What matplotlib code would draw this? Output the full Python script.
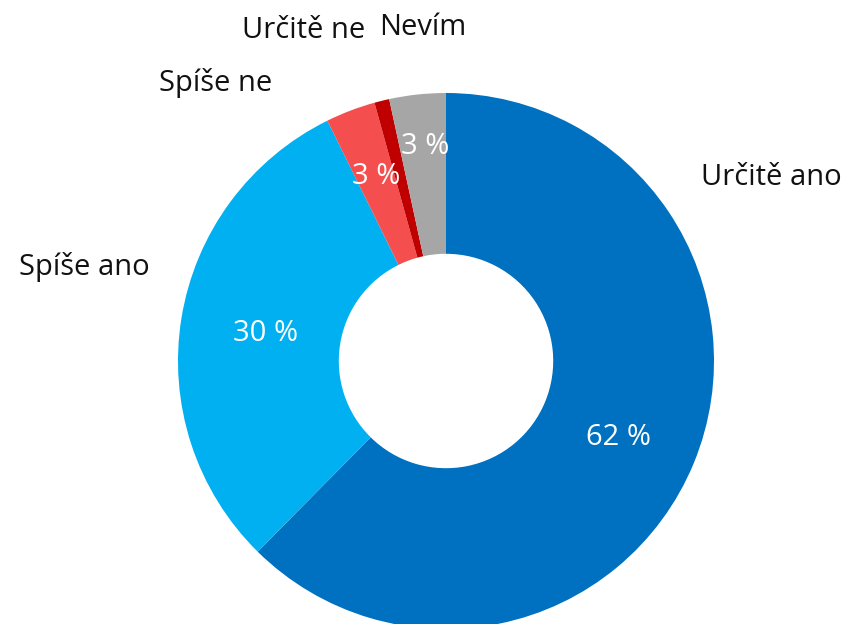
import matplotlib.pyplot as plt

# ============ DATA ============
categories = ["Určitě ano", "Spíše ano", "Spíše ne", "Určitě ne", "Nevím"]
values = [62.4, 30.3, 3.0, 0.9, 3.4]
pct_labels = ["62 %", "30 %", "3 %", "", "3 %"]
colors = ["#0070C0", "#00B0F0", "#F44E4E", "#C00000", "#A6A6A6"]

# label positions in pie units (radius = 1)
name_pos = [(1.213, 0.683), (-1.351, 0.351), (-0.858, 1.037), (-0.530, 1.235), (-0.086, 1.243)]
pct_pos = [(0.642, -0.284), (-0.672, 0.104), (-0.261, 0.690), None, (-0.078, 0.799)]

plt.rcParams['font.family'] = ['Open Sans', 'DejaVu Sans']

fig = plt.figure(figsize=(8.49, 6.24), dpi=100)
ax = fig.add_axes([0, 0, 1, 1])

ax.pie(values, colors=colors, startangle=90, counterclock=False,
       wedgeprops=dict(width=0.60, linewidth=0))

for name, (x, y) in zip(categories, name_pos):
    ax.text(x, y, name, ha='center', va='center', fontsize=21, color='#111111')

for lab, pos in zip(pct_labels, pct_pos):
    if pos is None:
        continue
    ax.text(pos[0], pos[1], lab, ha='center', va='center', fontsize=21,
            color='white')

ax.set_xlim(-446 / 268, 403 / 268)
ax.set_ylim(-263 / 268, 361 / 268)
ax.set_aspect('equal')
ax.axis('off')

plt.savefig("out.png", dpi=100)
